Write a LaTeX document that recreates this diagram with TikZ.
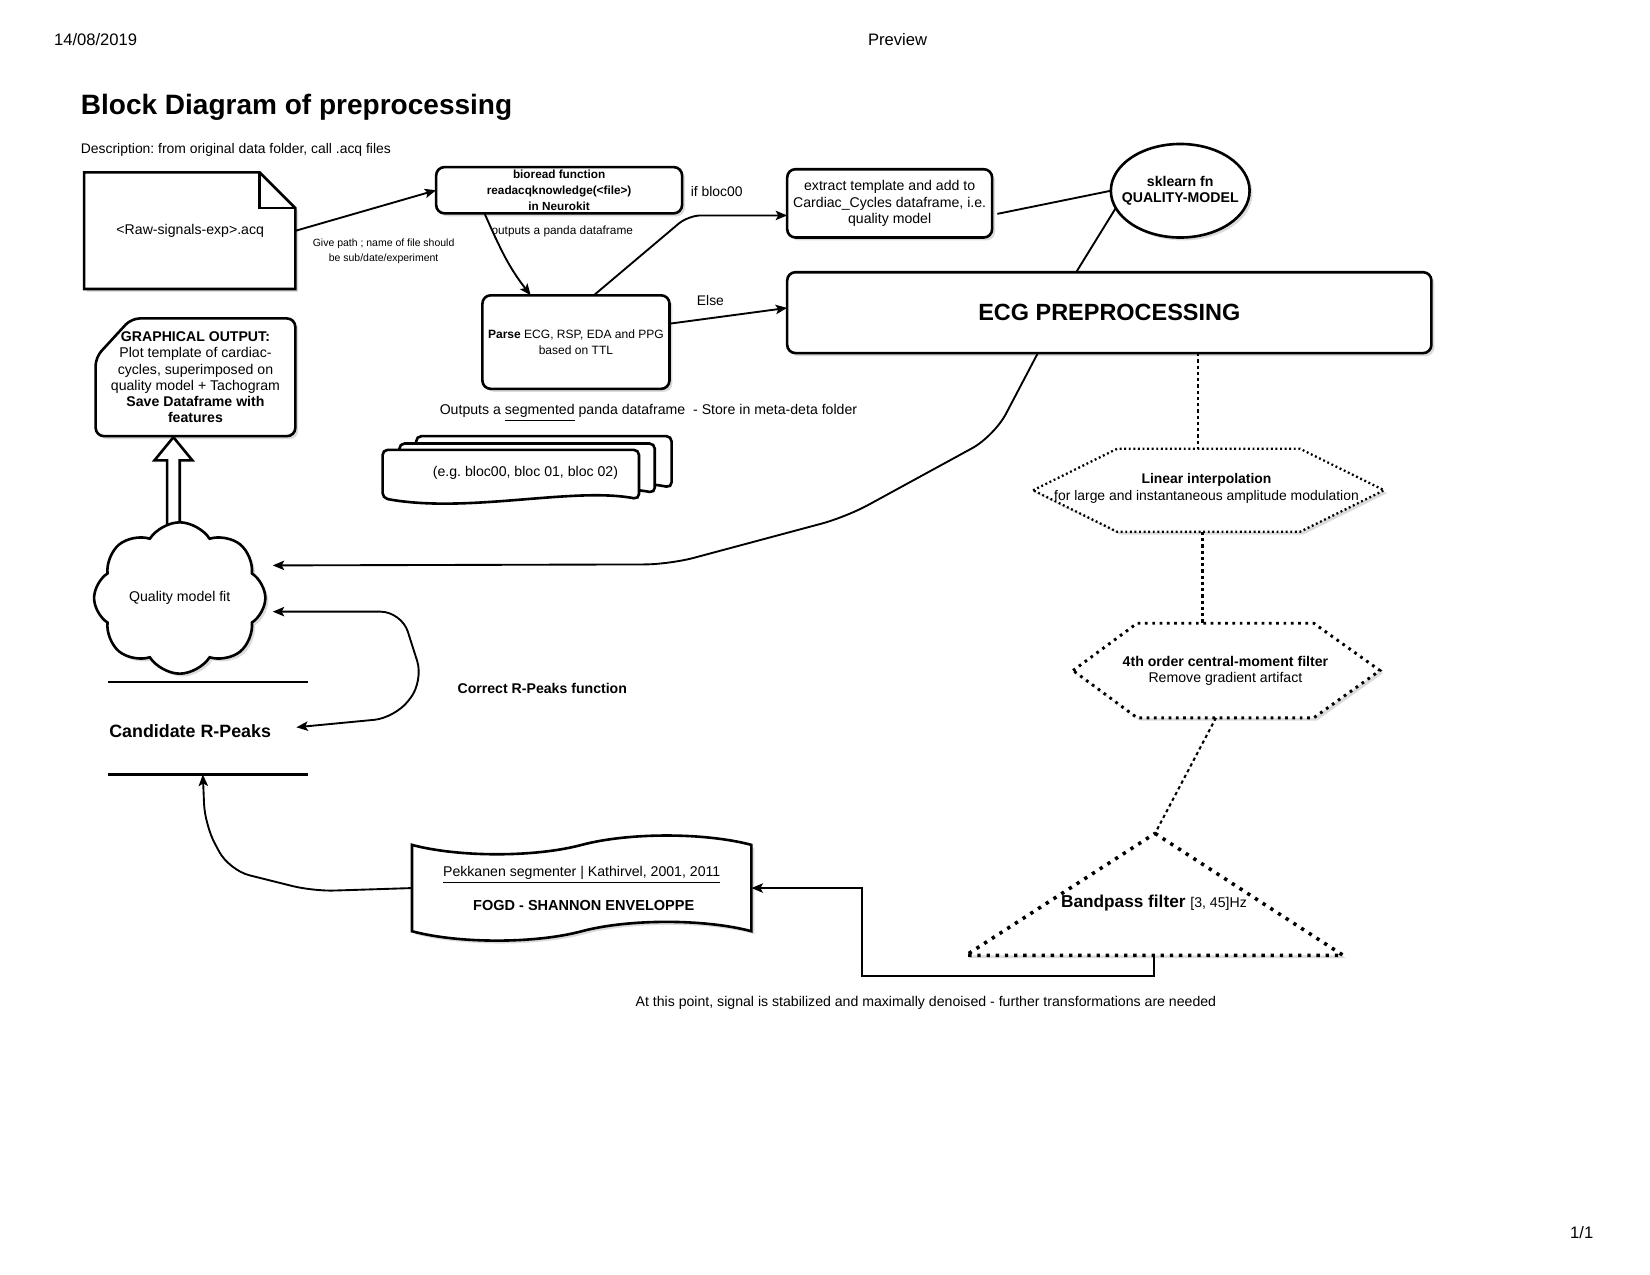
\documentclass[tikz,border=0pt]{standalone}
\usepackage{fontspec}
\setmainfont{Liberation Sans}
\usetikzlibrary{shapes.geometric,shapes.symbols,shadows,arrows.meta,calc}
\newcommand\fz[2]{\fontsize{#1}{#2}\selectfont}
\def\ux{0.5045bp}
\frenchspacing
\begin{document}
\begin{tikzpicture}[x=\ux,y=-\ux,
  every node/.style={inner sep=0pt, outer sep=0pt},
  shd/.style={drop shadow={shadow xshift=1.4bp, shadow yshift=-1.4bp, fill=black!28}},
  box/.style={draw, line width=1.25bp, rounded corners=4bp, fill=white, shd},
  shp/.style={draw, line width=1.25bp, fill=white, shd},
  docd/.style={draw, line width=1.25bp, fill=white, rounded corners=2.5bp},
  wh/.style 2 args={minimum width=#1*\ux, minimum height=#2*\ux},
  tip/.style={-{Stealth[length=5.5bp,width=4.5bp,inset=1.2bp]}},
  conn/.style={line width=0.9bp, tip},
  plain/.style={line width=0.9bp},
  hexa/.style={draw, fill=white, line width=1.1bp, dash pattern=on 0.9bp off 1.3bp, shd},
  hexb/.style={draw, fill=white, line width=1.4bp, dash pattern=on 1.3bp off 2.2bp, shd},
  trid/.style={draw, fill=white, line width=1.7bp, dash pattern=on 1.6bp off 2.8bp, shd},
  dotc/.style={line width=1.3bp, dash pattern=on 1.6bp off 1.4bp},
  dotd/.style={line width=1bp, dash pattern=on 1.6bp off 1.5bp}
]
\fill[white] (0,0) rectangle (1570,1213);
\useasboundingbox (0,0) rectangle (1570,1213);

% header and title
\node[font=\fz{8}{9}] (date) at (91,38) {14/08/2019};
\node[font=\fz{8}{9}] (prev) at (854,38) {Preview};
\node[font=\fz{8}{9}] (pg) at (1505,1173) {1/1};
\node[font=\bfseries\fz{13.5}{15}, anchor=west] (title) at (77,102) {Block Diagram of preprocessing};
\node[font=\fz{6.7}{8}, anchor=west] (desc) at (77,143) {Description: from original data folder, call .acq files};

% raw file (note shape)
\draw[shp] (80,164) -- (247,164) -- (281,198) -- (281,275) -- (80,275) -- cycle;
\draw[line width=1.25bp] (247,164) -- (247,198) -- (281,198);
\node[wh={201}{111}, font=\fz{6.8}{8}] (file) at (181,219.5) {<Raw-signals-exp>.acq};

% boxes
\node[box, wh={234}{44}, font=\bfseries\fz{5.67}{7.6}, align=center] (bio) at (532,181) {bioread function\\readacqknowledge(<file>)\\in Neurokit};
\node[box, wh={195}{65}, font=\fz{6.8}{7.8}, align=center] (ext) at (846.5,193.5) {extract template and add to\\Cardiac\_Cycles dataframe, i.e.\\quality model};
\node[ellipse, shp, wh={132}{89}, inner xsep=-10*\ux, font=\bfseries\fz{6.8}{8}, align=center] (sk) at (1123,181.5) {sklearn fn\\QUALITY-MODEL};
\node[box, wh={613}{77}, font=\bfseries\fz{11.3}{13}] (ecg) at (1055.5,297.5) {ECG PREPROCESSING};
\node[box, wh={178}{89}, font=\fz{5.8}{7.6}, align=center] (parse) at (548,325.5) {{\bfseries Parse} ECG, RSP, EDA and PPG\\based on TTL};

% labels
\node[font=\fz{5.05}{7}, align=center] (givepath) at (365,239) {Give path ; name of file should\\be sub/date/experiment};
\node[font=\fz{5.7}{7}] (outdf) at (535,220) {outputs a panda dataframe};
\node[font=\fz{6.7}{7.5}] (ifbloc) at (682,182) {if bloc00};
\node[font=\fz{6.7}{7.5}] (else) at (676,286) {Else};
\node[font=\fz{6.8}{8}] (outseg) at (617,393) {Outputs a \underline{segmented} panda dataframe \ - Store in meta-deta folder};

% top connectors
\draw[conn] (file.east) -- (bio.west);
\draw[conn] ([xshift=-71*\ux]bio.south) to[out=-66,in=128] ([xshift=-43*\ux]parse.north);
\draw[conn, rounded corners=6bp] ([xshift=17*\ux]parse.north) -- (655,205) -- ([yshift=-11.5*\ux]ext.west);
\draw[plain] ([xshift=5*\ux,yshift=-10*\ux]ext.east) -- (sk.west);
\draw[plain] (sk.195) -- ([xshift=-31.5*\ux]ecg.north);
\draw[conn] ([yshift=17.5*\ux]parse.east) -- ([yshift=4.5*\ux]ecg.west);

% stack of documents
\draw[docd] (396,415) -- (639,415) -- (639,464) .. controls (580,452) and (480,478) .. (396,464) -- cycle;
\draw[docd] (380,422) -- (623,422) -- (623,469) .. controls (560,457) and (460,483) .. (380,469) -- cycle;
\draw[docd] (364,428) -- (608,428) -- (608,475) .. controls (545,463) and (445,489) .. (364,474) -- cycle;
\node[font=\fz{6.8}{8}] (stack) at (500,450) {(e.g. bloc00, bloc 01, bloc 02)};

% graphical output
\draw[shp, rounded corners=4bp] (91,340) -- (125,303) -- (281,303) -- (281,415) -- (91,415) -- cycle;
\node[wh={190}{112}, font=\fz{6.8}{7.85}, align=center] (go) at (186,359) {{\bfseries GRAPHICAL OUTPUT:}\\Plot template of cardiac-\\cycles, superimposed on\\quality model + Tachogram\\{\bfseries Save Dataframe with}\\{\bfseries features}};

% block arrow cloud -> graphical output
\draw[line width=1.25bp, fill=white] (159,505) -- (159,438) -- (147,438) -- (165,416) -- (183,438) -- (171,438) -- (171,505);

% cloud
\node[cloud, shp, cloud puffs=8, cloud puff arc=115, aspect=1.15, wh={163}{144}, font=\fz{6.8}{8}] (cloud) at (171,569) {Quality model fit};

% ECG -> cloud
\draw[conn, rounded corners=12bp] ([xshift=-68*\ux]ecg.south) -- (946,415) -- (805,492) -- (637,537) -- ([xshift=7*\ux,yshift=31*\ux]cloud.east);

% candidate R-peaks (data store)
\node[wh={190}{88}] (cand) at (198,693) {};
\draw[line width=1.25bp] (cand.north west) -- (cand.north east);
\draw[line width=1.25bp] (cand.south west) -- (cand.south east);
\node[font=\bfseries\fz{8.6}{10}, anchor=west] (candt) at (104,696) {Candidate R-Peaks};

% correct R-peaks
\draw[line width=0.9bp, {Stealth[length=5.5bp,width=4.5bp,inset=1.2bp]}-{Stealth[length=5.5bp,width=4.5bp,inset=1.2bp]}, rounded corners=10bp] ([xshift=7*\ux,yshift=-13*\ux]cloud.east) -- (382,582) -- (403,648) -- (376,683) -- ([xshift=-11*\ux,yshift=1*\ux]cand.east);
\node[font=\bfseries\fz{6.8}{8}] (corr) at (516,655) {Correct R-Peaks function};

% FOGD
\node[tape, shp, wh={323}{100}, tape bend height=9bp, font=\fz{6.8}{8}, align=center] (fogd) at (553.5,845) {\underline{Pekkanen segmenter | Kathirvel, 2001, 2011}\\[7bp]{\bfseries\fz{7}{8} FOGD - SHANNON ENVELOPPE}};
\draw[conn, rounded corners=10bp] (fogd.west) -- (298,848) -- (218,828) -- (195,785) -- ([xshift=-5*\ux]cand.south);

% hexagons and triangle
\draw[hexa] (983,466.5) -- (1063,427) -- (1237,427) -- (1317,466.5) -- (1237,506) -- (1063,506) -- cycle;
\node[font=\fz{6.7}{8}, align=center] (lin) at (1148,465) {{\bfseries Linear interpolation}\\for large and instantaneous amplitude modulation};
\draw[hexb] (1021,638) -- (1082,593) -- (1250,593) -- (1313,638) -- (1250,683) -- (1082,683) -- cycle;
\node[font=\fz{6.8}{7.6}, align=center] (mom) at (1166,638.5) {{\bfseries 4th order central-moment filter}\\Remove gradient artifact};
\draw[trid] (1099,793) -- (1278,909) -- (919,909) -- cycle;
\node[font=\bfseries\fz{8.3}{10}] (bp) at (1098,859) {Bandpass filter {\mdseries\fz{6.8}{8}[3, 45]Hz}};

\coordinate (h1n) at (1140,427);
\coordinate (h1s) at (1144,506);
\coordinate (h2n) at (1144,593);
\coordinate (h2s) at (1157,683);
\coordinate (tapex) at (1099,793);
\coordinate (tbase) at (1098,909);
\draw[dotc] ([xshift=84.5*\ux]ecg.south) -- (h1n);
\draw[dotc] (h1s) -- (h2n);
\draw[dotd] (h2s) -- (tapex);
\draw[conn] (tbase) -- ++(0,20) -| ([xshift=105*\ux]fogd.east) -- (fogd.east);

\node[font=\fz{6.8}{8}] (final) at (881,954) {At this point, signal is stabilized and maximally denoised - further transformations are needed};
\end{tikzpicture}
\end{document}
